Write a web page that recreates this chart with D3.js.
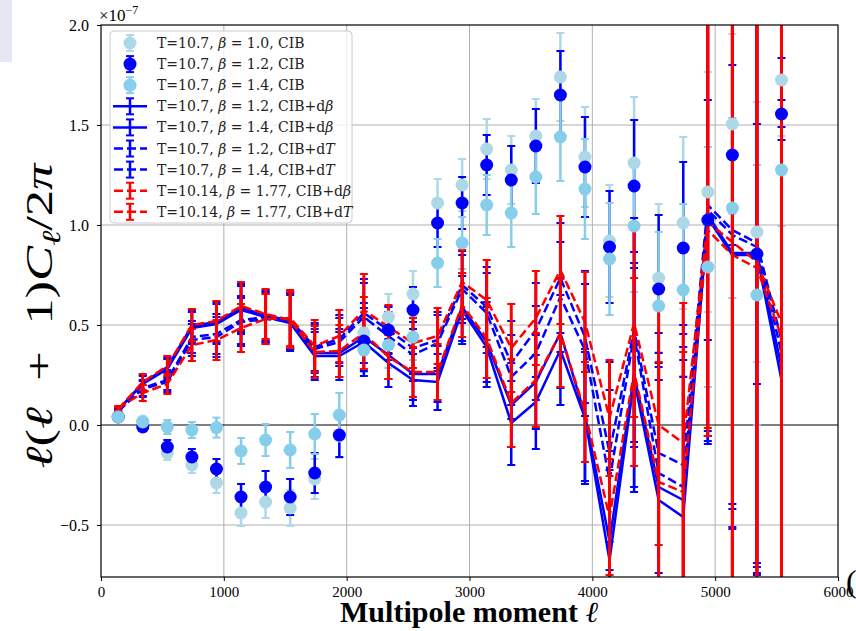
<!DOCTYPE html>
<html>
<head>
<meta charset="utf-8">
<script src="https://cdn.jsdelivr.net/npm/d3@7"></script>
<style>
  body { margin: 0; background: #fff; }
  svg { display: block; }
  .tick text { font-family: "Liberation Serif", serif; fill: #000; }
  .legtext { font-family: "DejaVu Serif", serif; font-size: 14px; fill: #222; }
</style>
</head>
<body>
<div id="chart"></div>
<script>
// multipole bin centres
var ell = [140, 340, 540, 740, 940, 1140, 1340, 1540, 1740, 1940, 2140, 2340, 2540, 2740,
           2940, 3140, 3340, 3540, 3740, 3940, 4140, 4340, 4540, 4740, 4940, 5140, 5340, 5540];

// CIB only points (units of 1e-7)
var cibB10 = [0.04, 0.02, -0.14, -0.20, -0.29, -0.44, -0.385, -0.415, -0.27, -0.055, 0.46, 0.54, 0.655, 1.11,
              1.20, 1.38, 1.275, 1.445, 1.74, 1.34, 0.92, 1.31, 0.735, 1.01, 1.165, 1.505, 0.965, 1.725];
var cibB12 = [0.04, -0.01, -0.11, -0.16, -0.22, -0.36, -0.31, -0.36, -0.24, -0.05, 0.42, 0.475, 0.575, 1.01,
              1.11, 1.30, 1.225, 1.395, 1.65, 1.29, 0.89, 1.195, 0.68, 0.885, 1.025, 1.35, 0.855, 1.555];
var cibB14 = [0.04, 0.015, -0.01, -0.025, -0.013, -0.13, -0.075, -0.125, -0.045, 0.05, 0.375, 0.40, 0.44, 0.81,
              0.91, 1.10, 1.06, 1.24, 1.44, 1.18, 0.83, 0.995, 0.595, 0.675, 0.79, 1.085, 0.65, 1.275];
var errCib = [0.01, 0.02, 0.035, 0.04, 0.05, 0.065, 0.08, 0.09, 0.1, 0.11, 0.11, 0.115, 0.115, 0.12,
              0.13, 0.15, 0.17, 0.185, 0.22, 0.25, 0.28, 0.33, 0.37, 0.43, 0.6, 0.45, 0.65, 0.28];

// CIB + dbeta / dT lines
var dbB12 = [0.075, 0.205, 0.28, 0.485, 0.505, 0.575, 0.54, 0.51, 0.345, 0.345, 0.415, 0.31, 0.225, 0.215,
             0.575, 0.39, 0.01, 0.115, 0.375, 0.035, -0.675, 0.225, -0.375, -0.46, 1.035, 0.85, 0.85, 0.225];
var dbB14 = [0.075, 0.21, 0.29, 0.495, 0.515, 0.585, 0.55, 0.52, 0.36, 0.36, 0.44, 0.35, 0.255, 0.255,
             0.59, 0.415, 0.10, 0.215, 0.46, 0.05, -0.58, 0.25, -0.31, -0.375, 1.05, 0.86, 0.86, 0.29];
var dtB12 = [0.07, 0.18, 0.215, 0.425, 0.44, 0.515, 0.53, 0.52, 0.38, 0.415, 0.54, 0.445, 0.35, 0.41,
             0.68, 0.56, 0.24, 0.36, 0.64, 0.375, -0.275, 0.45, -0.24, -0.31, 1.075, 0.95, 0.89, 0.36];
var dtB14 = [0.07, 0.185, 0.225, 0.44, 0.455, 0.525, 0.54, 0.525, 0.39, 0.43, 0.56, 0.475, 0.385, 0.425,
             0.70, 0.59, 0.31, 0.475, 0.735, 0.44, -0.135, 0.475, -0.14, -0.20, 1.10, 0.975, 0.91, 0.425];
var errBlue = [0.01, 0.04, 0.05, 0.08, 0.1, 0.12, 0.125, 0.14, 0.12, 0.12, 0.17, 0.12, 0.13, 0.14,
               0.17, 0.2, 0.21, 0.235, 0.275, 0.33, 0.45, 0.56, 0.6, 0.7, 1.13, 1.37, 1.6, 1.2];

var redDb = [0.08, 0.215, 0.295, 0.5, 0.52, 0.595, 0.555, 0.525, 0.365, 0.37, 0.46, 0.34, 0.265, 0.265,
             0.60, 0.435, 0.11, 0.225, 0.46, 0.065, -0.46, 0.265, -0.285, -0.335, 0.975, 0.85, 0.785, 0.44];
var redDt = [0.085, 0.16, 0.205, 0.40, 0.425, 0.485, 0.53, 0.535, 0.395, 0.445, 0.575, 0.49, 0.41, 0.445,
             0.715, 0.625, 0.385, 0.535, 0.775, 0.515, 0.035, 0.51, 0.0, -0.09, 1.015, 0.915, 0.815, 0.51];
var errRed = [0.01, 0.04, 0.05, 0.08, 0.1, 0.12, 0.125, 0.14, 0.13, 0.13, 0.18, 0.11, 0.125, 0.14,
              0.16, 0.2, 0.22, 0.235, 0.27, 0.25, 0.29, 0.47, 0.6, 0.7, 1.03, 1.8, 1.9, 2.0];

var xTicks = [0, 1000, 2000, 3000, 4000, 5000, 6000];
var yTicks = [-0.5, 0, 0.5, 1.0, 1.5, 2.0];

var legendLabels = [
  ["T=10.7, ", "β", " = 1.0, CIB", ""],
  ["T=10.7, ", "β", " = 1.2, CIB", ""],
  ["T=10.7, ", "β", " = 1.4, CIB", ""],
  ["T=10.7, ", "β", " = 1.2, CIB+d", "β"],
  ["T=10.7, ", "β", " = 1.4, CIB+d", "β"],
  ["T=10.7, ", "β", " = 1.2, CIB+d", "T"],
  ["T=10.7, ", "β", " = 1.4, CIB+d", "T"],
  ["T=10.14, ", "β", " = 1.77, CIB+d", "β"],
  ["T=10.14, ", "β", " = 1.77, CIB+d", "T"]
];

var W = 856, H = 631;
var pL = 101, pR = 838, pT = 25, pB = 577;

var svg = d3.select("#chart").append("svg")
    .attr("width", W)
    .attr("height", H);

// pale strip at top-left corner of the screenshot
svg.append("rect").attr("x", 0).attr("y", 0).attr("width", 12).attr("height", 62).attr("fill", "#e4e7f1");

var x = d3.scaleLinear().domain([0, 6000]).range([pL, pR]);
var y = d3.scaleLinear().domain([-0.76, 2.0]).range([pB, pT]);

svg.append("clipPath").attr("id", "clip")
  .append("rect").attr("x", pL).attr("y", pT).attr("width", pR - pL).attr("height", pB - pT);

// grid
var grid = svg.append("g");
grid.selectAll("line.gx").data(xTicks.slice(1, -1)).enter().append("line")
    .attr("x1", function(d) { return x(d); }).attr("x2", function(d) { return x(d); })
    .attr("y1", pT).attr("y2", pB)
    .attr("stroke", "#b0b0b0").attr("stroke-width", 1);
grid.selectAll("line.gy").data(yTicks.filter(function(d) { return d != 0 && d != 2.0; })).enter().append("line")
    .attr("x1", pL).attr("x2", pR)
    .attr("y1", function(d) { return y(d); }).attr("y2", function(d) { return y(d); })
    .attr("stroke", "#b0b0b0").attr("stroke-width", 1);
// zero line
svg.append("line").attr("x1", pL).attr("x2", pR).attr("y1", y(0)).attr("y2", y(0))
    .attr("stroke", "#000").attr("stroke-width", 1.2);

var plot = svg.append("g").attr("clip-path", "url(#clip)");
var barLayer = plot.append("g");
var lineLayer = plot.append("g");
var dotLayer = plot.append("g");

function errorbars(g, vals, errs, color, lw, capw) {
  var eb = g.append("g");
  eb.selectAll("line.bar").data(vals).enter().append("line")
    .attr("x1", function(_, i) { return x(ell[i]); })
    .attr("x2", function(_, i) { return x(ell[i]); })
    .attr("y1", function(d, i) { return y(d - errs[i]); })
    .attr("y2", function(d, i) { return y(d + errs[i]); })
    .attr("stroke", color).attr("stroke-width", lw);
  [-1, 1].forEach(function(s) {
    eb.selectAll("line.cap" + s).data(vals).enter().append("line")
      .attr("x1", function(_, i) { return x(ell[i]) - capw; })
      .attr("x2", function(_, i) { return x(ell[i]) + capw; })
      .attr("y1", function(d, i) { return y(d + s * errs[i]); })
      .attr("y2", function(d, i) { return y(d + s * errs[i]); })
      .attr("stroke", color).attr("stroke-width", 2);
  });
}

var line = d3.line()
    .x(function(_, i) { return x(ell[i]); })
    .y(function(d) { return y(d); });

function lineSeries(vals, errs, color, dashed, lw) {
  errorbars(lineLayer, vals, errs, color, lw, 4);
  lineLayer.append("path").datum(vals)
    .attr("d", line)
    .attr("fill", "none")
    .attr("stroke", color).attr("stroke-width", 2.5)
    .attr("stroke-dasharray", dashed ? "9,4" : null);
}

function pointSeries(vals, color) {
  errorbars(barLayer, vals, errCib, color, 2.5, 4);
  dotLayer.selectAll(null).data(vals).enter().append("circle")
    .attr("cx", function(_, i) { return x(ell[i]); })
    .attr("cy", function(d) { return y(d); })
    .attr("r", 6.5)
    .attr("fill", color);
}

pointSeries(cibB10, "#add8e6");
pointSeries(cibB12, "#0000ff");
pointSeries(cibB14, "#87ceeb");

lineSeries(dbB12, errBlue, "#0000ff", false, 2.5);
lineSeries(dbB14, errBlue, "#0000ff", false, 2.5);
lineSeries(dtB12, errBlue, "#0000ff", true, 2.5);
lineSeries(dtB14, errBlue, "#0000ff", true, 2.5);
lineSeries(redDb, errRed, "#ff0000", true, 3);
lineSeries(redDt, errRed, "#ff0000", true, 3);

// axes
var xAxis = svg.append("g").attr("transform", "translate(0," + pB + ")")
    .call(d3.axisBottom(x).tickValues(xTicks).tickSize(4).tickPadding(5).tickFormat(d3.format("d")));
var yAxis = svg.append("g").attr("transform", "translate(" + pL + ",0)")
    .call(d3.axisLeft(y).tickValues(yTicks).tickSize(4).tickPadding(8).tickFormat(d3.format(".1f")));
xAxis.select(".domain").remove();
yAxis.select(".domain").remove();
xAxis.selectAll(".tick text").attr("font-size", 15);
yAxis.selectAll(".tick text").attr("font-size", 16);
svg.append("rect").attr("x", pL).attr("y", pT).attr("width", pR - pL).attr("height", pB - pT)
    .attr("fill", "none").attr("stroke", "#000").attr("stroke-width", 1.2);

svg.append("text").attr("x", 99).attr("y", 21)
    .attr("font-family", "Liberation Serif, serif").attr("font-size", 17)
    .html('×10<tspan dy="-7" font-size="12">−7</tspan>');

// axis labels
svg.append("text")
    .attr("x", 469).attr("y", 622)
    .attr("text-anchor", "middle")
    .attr("font-family", "Liberation Serif, serif").attr("font-weight", "bold").attr("font-size", 29)
    .attr("textLength", 258).attr("lengthAdjust", "spacingAndGlyphs")
    .html('Multipole moment <tspan font-style="italic" font-weight="normal">ℓ</tspan>');

svg.append("text")
    .attr("transform", "translate(52,316) rotate(-90)")
    .attr("text-anchor", "middle")
    .attr("font-family", "Liberation Serif, serif").attr("font-size", 38)
    .attr("textLength", 305).attr("lengthAdjust", "spacingAndGlyphs")
    .html('<tspan font-style="italic">ℓ</tspan>(<tspan font-style="italic">ℓ</tspan>\u2002+\u20021)<tspan font-style="italic">C</tspan><tspan font-style="italic" font-size="26" dy="8">ℓ</tspan><tspan dy="-8">/2</tspan><tspan font-style="italic">π</tspan>');

svg.append("text").attr("x", 846).attr("y", 592)
    .attr("font-family", "Liberation Serif, serif").attr("font-size", 32).text("(");

// legend
var leg = svg.append("g");
leg.append("rect").attr("x", 110).attr("y", 31).attr("width", 242).attr("height", 192)
    .attr("rx", 4).attr("fill", "#fff").attr("fill-opacity", 0.8)
    .attr("stroke", "#cccccc").attr("stroke-width", 1);

var legStyle = [
  {c: "#add8e6", kind: "pt"}, {c: "#0000ff", kind: "pt"}, {c: "#87ceeb", kind: "pt"},
  {c: "#0000ff", kind: "solid"}, {c: "#0000ff", kind: "solid"},
  {c: "#0000ff", kind: "dash"}, {c: "#0000ff", kind: "dash"},
  {c: "#ff0000", kind: "dash"}, {c: "#ff0000", kind: "dash"}
];

legendLabels.forEach(function(lab, i) {
  var cy = 43 + i * 21.1, cx = 130, s = legStyle[i];
  var g = leg.append("g");
  if (s.kind != "pt") {
    g.append("line").attr("x1", 113).attr("x2", 147).attr("y1", cy).attr("y2", cy)
      .attr("stroke", s.c).attr("stroke-width", 2.5)
      .attr("stroke-dasharray", s.kind == "dash" ? "9,4" : null)
      .attr("stroke-dashoffset", s.kind == "dash" ? -1 : null);
  }
  g.append("line").attr("x1", cx).attr("x2", cx).attr("y1", cy - 8).attr("y2", cy + 8)
    .attr("stroke", s.c).attr("stroke-width", 2.5);
  [-8, 8].forEach(function(o) {
    g.append("line").attr("x1", cx - 4).attr("x2", cx + 4).attr("y1", cy + o).attr("y2", cy + o)
      .attr("stroke", s.c).attr("stroke-width", 2);
  });
  if (s.kind == "pt") {
    g.append("circle").attr("cx", cx).attr("cy", cy).attr("r", 6.5).attr("fill", s.c);
  }
  g.append("text").attr("class", "legtext").attr("x", 157).attr("y", cy + 5)
    .html(lab[0] + '<tspan font-style="italic">' + lab[1] + '</tspan>' + lab[2] +
          (lab[3] ? '<tspan font-style="italic">' + lab[3] + '</tspan>' : ''));
});
</script>
</body>
</html>
